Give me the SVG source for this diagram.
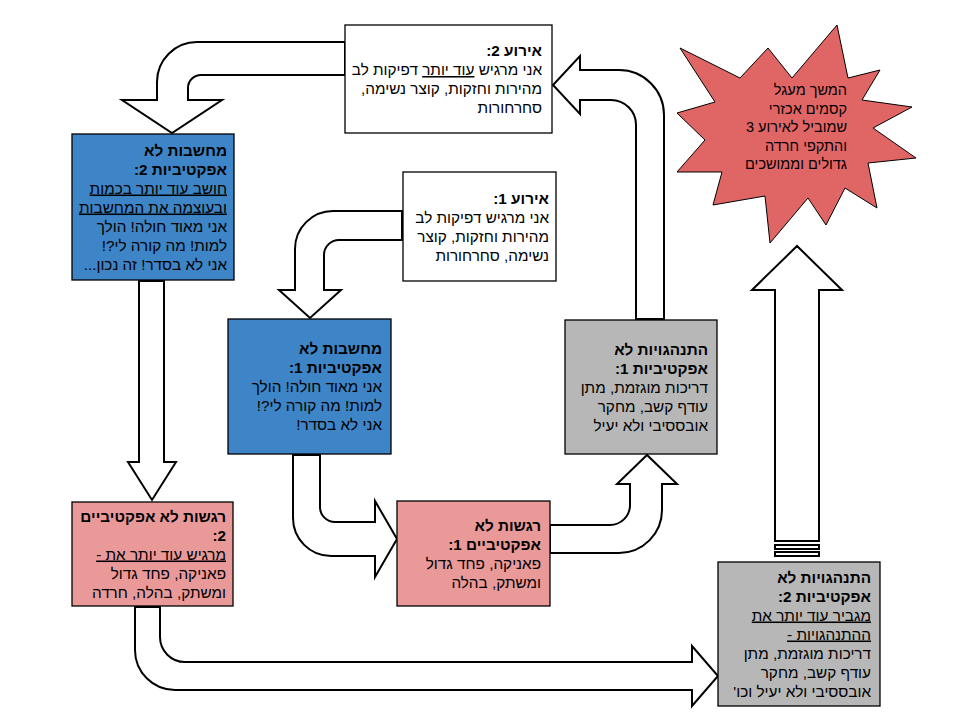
<svg xmlns="http://www.w3.org/2000/svg" width="960" height="720" viewBox="0 0 960 720">
<style>
.t{font-family:"Liberation Sans","Noto Sans",Arial,sans-serif;font-size:15.3px;fill:#000;direction:rtl;text-anchor:start}
.s{font-size:14.5px}
.b{font-weight:bold}
.u{text-decoration:underline}
.box{stroke:#000;stroke-width:1.3}
.arrow{fill:#fff;stroke:#000;stroke-width:2;stroke-linejoin:miter}
</style>
<rect width="960" height="720" fill="#fff"/>
<g id="connectors">
<path class="arrow" d="M345,42 L197,42 A40,40 0 0 0 157,82 L157,100 L122,100 L172,133 L222,100 L188,100 L188,88 A13,13 0 0 1 201,75 L345,75 Z"/>
<path class="arrow" d="M139,281 L139,462 L128,462 L152,500 L176,462 L164,462 L164,281 Z"/>
<path class="arrow" d="M135,607 L135,650 A40,40 0 0 0 175,690 L692,690 L692,706 L718,676 L692,646 L692,662 L185,662 A25,25 0 0 1 160,637 L160,607 Z"/>
<path class="arrow" d="M775,541 L775,290 L752,290 L797,246 L842,290 L819,290 L819,541 Z"/>
<rect class="arrow" x="775" y="545" width="44" height="4"/>
<rect class="arrow" x="775" y="552" width="44" height="4"/>
<path class="arrow" d="M636,319 L636,125 A25,25 0 0 0 611,100 L580,100 L580,114 L553,85 L580,56 L580,70 L619,70 A45,45 0 0 1 664,115 L664,319 Z"/>
<path class="arrow" d="M402,211 L333,211 A38,38 0 0 0 295,249 L295,290 L279,290 L310,318 L341,290 L324,290 L324,255 A15,15 0 0 1 339,240 L402,240 Z"/>
<path class="arrow" d="M293,455 L293,518 A38,38 0 0 0 331,556 L375,556 L375,577 L397,539 L375,501 L375,522 L335,522 A15,15 0 0 1 320,507 L320,455 Z"/>
<path class="arrow" d="M550,525 L610,525 A20,20 0 0 0 630,505 L630,484 L617,484 L647,455 L677,484 L662,484 L662,510 A43,43 0 0 1 619,553 L550,553 Z"/>
</g>
<g id="event2">
<rect class="box" x="345" y="25" width="207" height="108" fill="#fff"/>
<text class="t b" x="542" y="56">אירוע 2:</text>
<text class="t" x="542" y="75">אני מרגיש <tspan class="u">עוד יותר</tspan> דפיקות לב</text>
<text class="t" x="542" y="94">מהירות וחזקות, קוצר נשימה,</text>
<text class="t" x="542" y="113">סחרחורות</text>
</g>
<g id="thoughts2">
<rect class="box" x="72" y="134" width="162" height="146" fill="#3d85c6"/>
<text class="t b" x="227" y="155.5">מחשבות לא</text>
<text class="t b" x="227" y="174.5">אפקטיביות 2:</text>
<text class="t u" x="227" y="193.5">חושב עוד יותר בכמות</text>
<text class="t u" x="227" y="212.5">ובעוצמה את המחשבות</text>
<text class="t" x="227" y="231.5">אני מאוד חולה! הולך</text>
<text class="t" x="227" y="250.5">למות! מה קורה לי?!</text>
<text class="t" x="227" y="269.5">אני לא בסדר! זה נכון...</text>
</g>
<g id="event1">
<rect class="box" x="403" y="172" width="153" height="109" fill="#fff"/>
<text class="t b" x="549" y="203.5">אירוע 1:</text>
<text class="t" x="549" y="222.5">אני מרגיש דפיקות לב</text>
<text class="t" x="549" y="241.5">מהירות וחזקות, קוצר</text>
<text class="t" x="549" y="260.5">נשימה, סחרחורות</text>
</g>
<g id="thoughts1">
<rect class="box" x="228" y="319" width="163" height="135" fill="#3d85c6"/>
<text class="t b" x="382" y="354">מחשבות לא</text>
<text class="t b" x="382" y="373">אפקטיביות 1:</text>
<text class="t" x="382" y="392">אני מאוד חולה! הולך</text>
<text class="t" x="382" y="411">למות! מה קורה לי?!</text>
<text class="t" x="382" y="430">אני לא בסדר!</text>
</g>
<g id="behaviors1">
<rect class="box" x="565" y="320" width="152" height="134" fill="#b7b7b7"/>
<text class="t b" x="708" y="354.5">התנהגויות לא</text>
<text class="t b" x="708" y="373.5">אפקטיביות 1:</text>
<text class="t" x="708" y="392.5">דריכות מוגזמת, מתן</text>
<text class="t" x="708" y="411.5">עודף קשב, מחקר</text>
<text class="t" x="708" y="430.5">אובססיבי ולא יעיל</text>
</g>
<g id="emotions1">
<rect class="box" x="397" y="501" width="153" height="105" fill="#ea9999"/>
<text class="t b" x="541" y="530.5">רגשות לא</text>
<text class="t b" x="541" y="549.5">אפקטיביים 1:</text>
<text class="t" x="541" y="568.5">פאניקה, פחד גדול</text>
<text class="t" x="541" y="587.5">ומשתק, בהלה</text>
</g>
<g id="emotions2">
<rect class="box" x="72" y="502" width="161" height="104" fill="#ea9999"/>
<text class="t b" x="226" y="521.5">רגשות לא אפקטיביים</text>
<text class="t b" x="226" y="540.5">2:</text>
<text class="t u" x="226" y="559.5">מרגיש עוד יותר את -</text>
<text class="t" x="226" y="578.5">פאניקה, פחד גדול</text>
<text class="t" x="226" y="597.5">ומשתק, בהלה, חרדה</text>
</g>
<g id="behaviors2">
<rect class="box" x="718" y="562" width="162" height="144" fill="#b7b7b7"/>
<text class="t b" x="871" y="582.5">התנהגויות לא</text>
<text class="t b" x="871" y="601.5">אפקטיביות 2:</text>
<text class="t u" x="871" y="620.5">מגביר עוד יותר את</text>
<text class="t u" x="871" y="639.5">ההתנהגויות -</text>
<text class="t" x="871" y="658.5">דריכות מוגזמת, מתן</text>
<text class="t" x="871" y="677.5">עודף קשב, מחקר</text>
<text class="t" x="871" y="696.5">אובססיבי ולא יעיל וכו'</text>
</g>
<g id="outcome">
<polygon points="837,25 848,78 880,70 862,100 912,107 873,128 916,158 868,163 877,208 845,188 826,225 808,198 770,243 765,196 713,205 722,172 677,172 705,140 677,113 715,102 680,48 740,78 768,48 792,78" fill="#e06666" stroke="#000" stroke-width="1"/>
<text class="t s" x="847" y="95">המשך מעגל</text>
<text class="t s" x="847" y="113.5">קסמים אכזרי</text>
<text class="t s" x="847" y="132">שמוביל לאירוע 3</text>
<text class="t s" x="847" y="150.5">והתקפי חרדה</text>
<text class="t s" x="847" y="169">גדולים וממושכים</text>
</g>
</svg>
